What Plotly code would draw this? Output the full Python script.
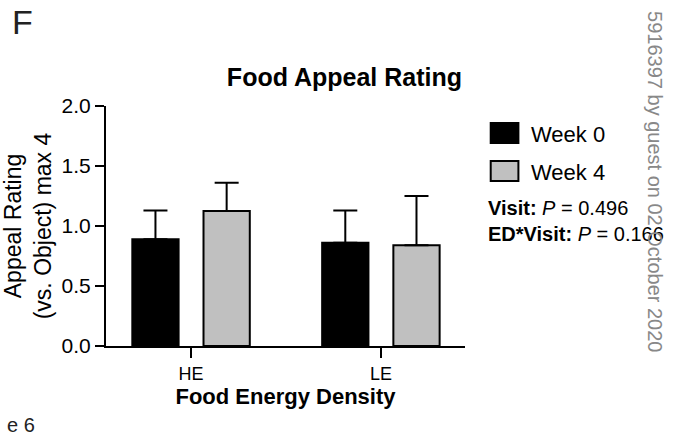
import plotly.graph_objects as go

categories = ["HE", "LE"]
week0_mean = [0.89, 0.86]
week0_err = [0.24, 0.27]
week4_mean = [1.125, 0.84]
week4_err = [0.235, 0.41]
y_ticks = [0.0, 0.5, 1.0, 1.5, 2.0]

W, H = 687, 435
ML, MR, MT, MB = 102, 222, 106, 89
FONT = "Arial, Liberation Sans, Helvetica, sans-serif"

x_idx = list(range(len(categories)))

fig = go.Figure()
fig.add_trace(go.Bar(
    x=x_idx, y=week0_mean, name="Week 0",
    marker=dict(color="#000000", line=dict(color="#000000", width=2)),
    error_y=dict(type="data", array=week0_err, arrayminus=[0]*len(week0_err),
                 symmetric=False, color="#000000", thickness=2, width=12),
    showlegend=False,
))
fig.add_trace(go.Bar(
    x=x_idx, y=week4_mean, name="Week 4",
    marker=dict(color="#c0c0c0", line=dict(color="#000000", width=2)),
    error_y=dict(type="data", array=week4_err, arrayminus=[0]*len(week4_err),
                 symmetric=False, color="#000000", thickness=2, width=12),
    showlegend=False,
))

def px_x(p):
    return (p - ML) / (W - ML - MR)

def px_y(p):
    return 1 - (p - MT) / (H - MT - MB)

# custom legend
shapes = []
annotations = []
legend_items = [("Week 0", "#000000", 133), ("Week 4", "#c0c0c0", 171)]
for label, col, yc in legend_items:
    shapes.append(dict(type="rect", xref="paper", yref="paper",
                       x0=px_x(491), x1=px_x(519), y0=px_y(yc + 10), y1=px_y(yc - 10),
                       fillcolor=col, line=dict(color="#000000", width=2)))
    annotations.append(dict(text=label, xref="paper", yref="paper",
                            x=px_x(530), y=px_y(yc + 1), xanchor="left", yanchor="middle",
                            showarrow=False, font=dict(size=22, color="#000000", family=FONT)))

annotations += [
    dict(text="<b>Visit:</b> <i>P</i> = 0.496<br><b>ED*Visit:</b> <i>P</i> = 0.166",
         xref="paper", yref="paper", align="left",
         x=px_x(486), y=px_y(221), xanchor="left", yanchor="middle", showarrow=False,
         font=dict(size=20, color="#000000", family=FONT)),
    dict(text="F", xref="paper", yref="paper", x=px_x(5), y=px_y(22),
         xanchor="left", yanchor="middle", showarrow=False,
         font=dict(size=34, color="#222222", family=FONT)),
    dict(text="e 6", xref="paper", yref="paper", x=px_x(0), y=px_y(425),
         xanchor="left", yanchor="middle", showarrow=False,
         font=dict(size=20, color="#222222", family=FONT)),
    dict(text="5916397 by guest on 02 October 2020", xref="paper", yref="paper",
         x=px_x(657), y=px_y(182), xanchor="center", yanchor="middle", showarrow=False,
         textangle=90, font=dict(size=20, color="#888888", family=FONT)),
]

fig.update_layout(
    width=W, height=H,
    margin=dict(l=ML, r=MR, t=MT, b=MB, pad=0),
    paper_bgcolor="white", plot_bgcolor="white",
    barmode="group", bargap=0.25, bargroupgap=0.35,
    font=dict(family=FONT, color="#000000"),
    title=dict(text="<b>Food Appeal Rating</b>", x=px_x(284), xanchor="center",
               y=1 - 77 / H, yanchor="middle", font=dict(size=25, family=FONT, color="#000000")),
    xaxis=dict(
        tickmode="array", tickvals=x_idx, ticktext=categories,
        range=[-0.448, 1.443],
        showline=True, linecolor="#000000", linewidth=2,
        ticks="outside", ticklen=10, tickwidth=2, tickcolor="#000000",
        tickfont=dict(size=18, family=FONT, color="#000000"),
        showgrid=False, zeroline=False,
        title=dict(text="<b>Food Energy Density</b>", font=dict(size=22, family=FONT, color="#000000"),
                   standoff=4),
    ),
    yaxis=dict(
        range=[0, 2.0], tickmode="array", tickvals=y_ticks,
        ticktext=[f"{v:.1f}" for v in y_ticks],
        showline=True, linecolor="#000000", linewidth=2,
        ticks="outside", ticklen=9, tickwidth=2, tickcolor="#000000",
        tickfont=dict(size=21, family=FONT, color="#000000"),
        showgrid=False, zeroline=False,
        title=dict(text="Appeal Rating<br>(vs. Object) max 4", font=dict(size=23, family=FONT, color="#000000"),
                   standoff=4),
    ),
    shapes=shapes,
    annotations=annotations,
)

fig.write_html("out.html", config={"displayModeBar": False},
               post_script="document.body.style.margin='0';document.body.style.overflow='hidden';")
